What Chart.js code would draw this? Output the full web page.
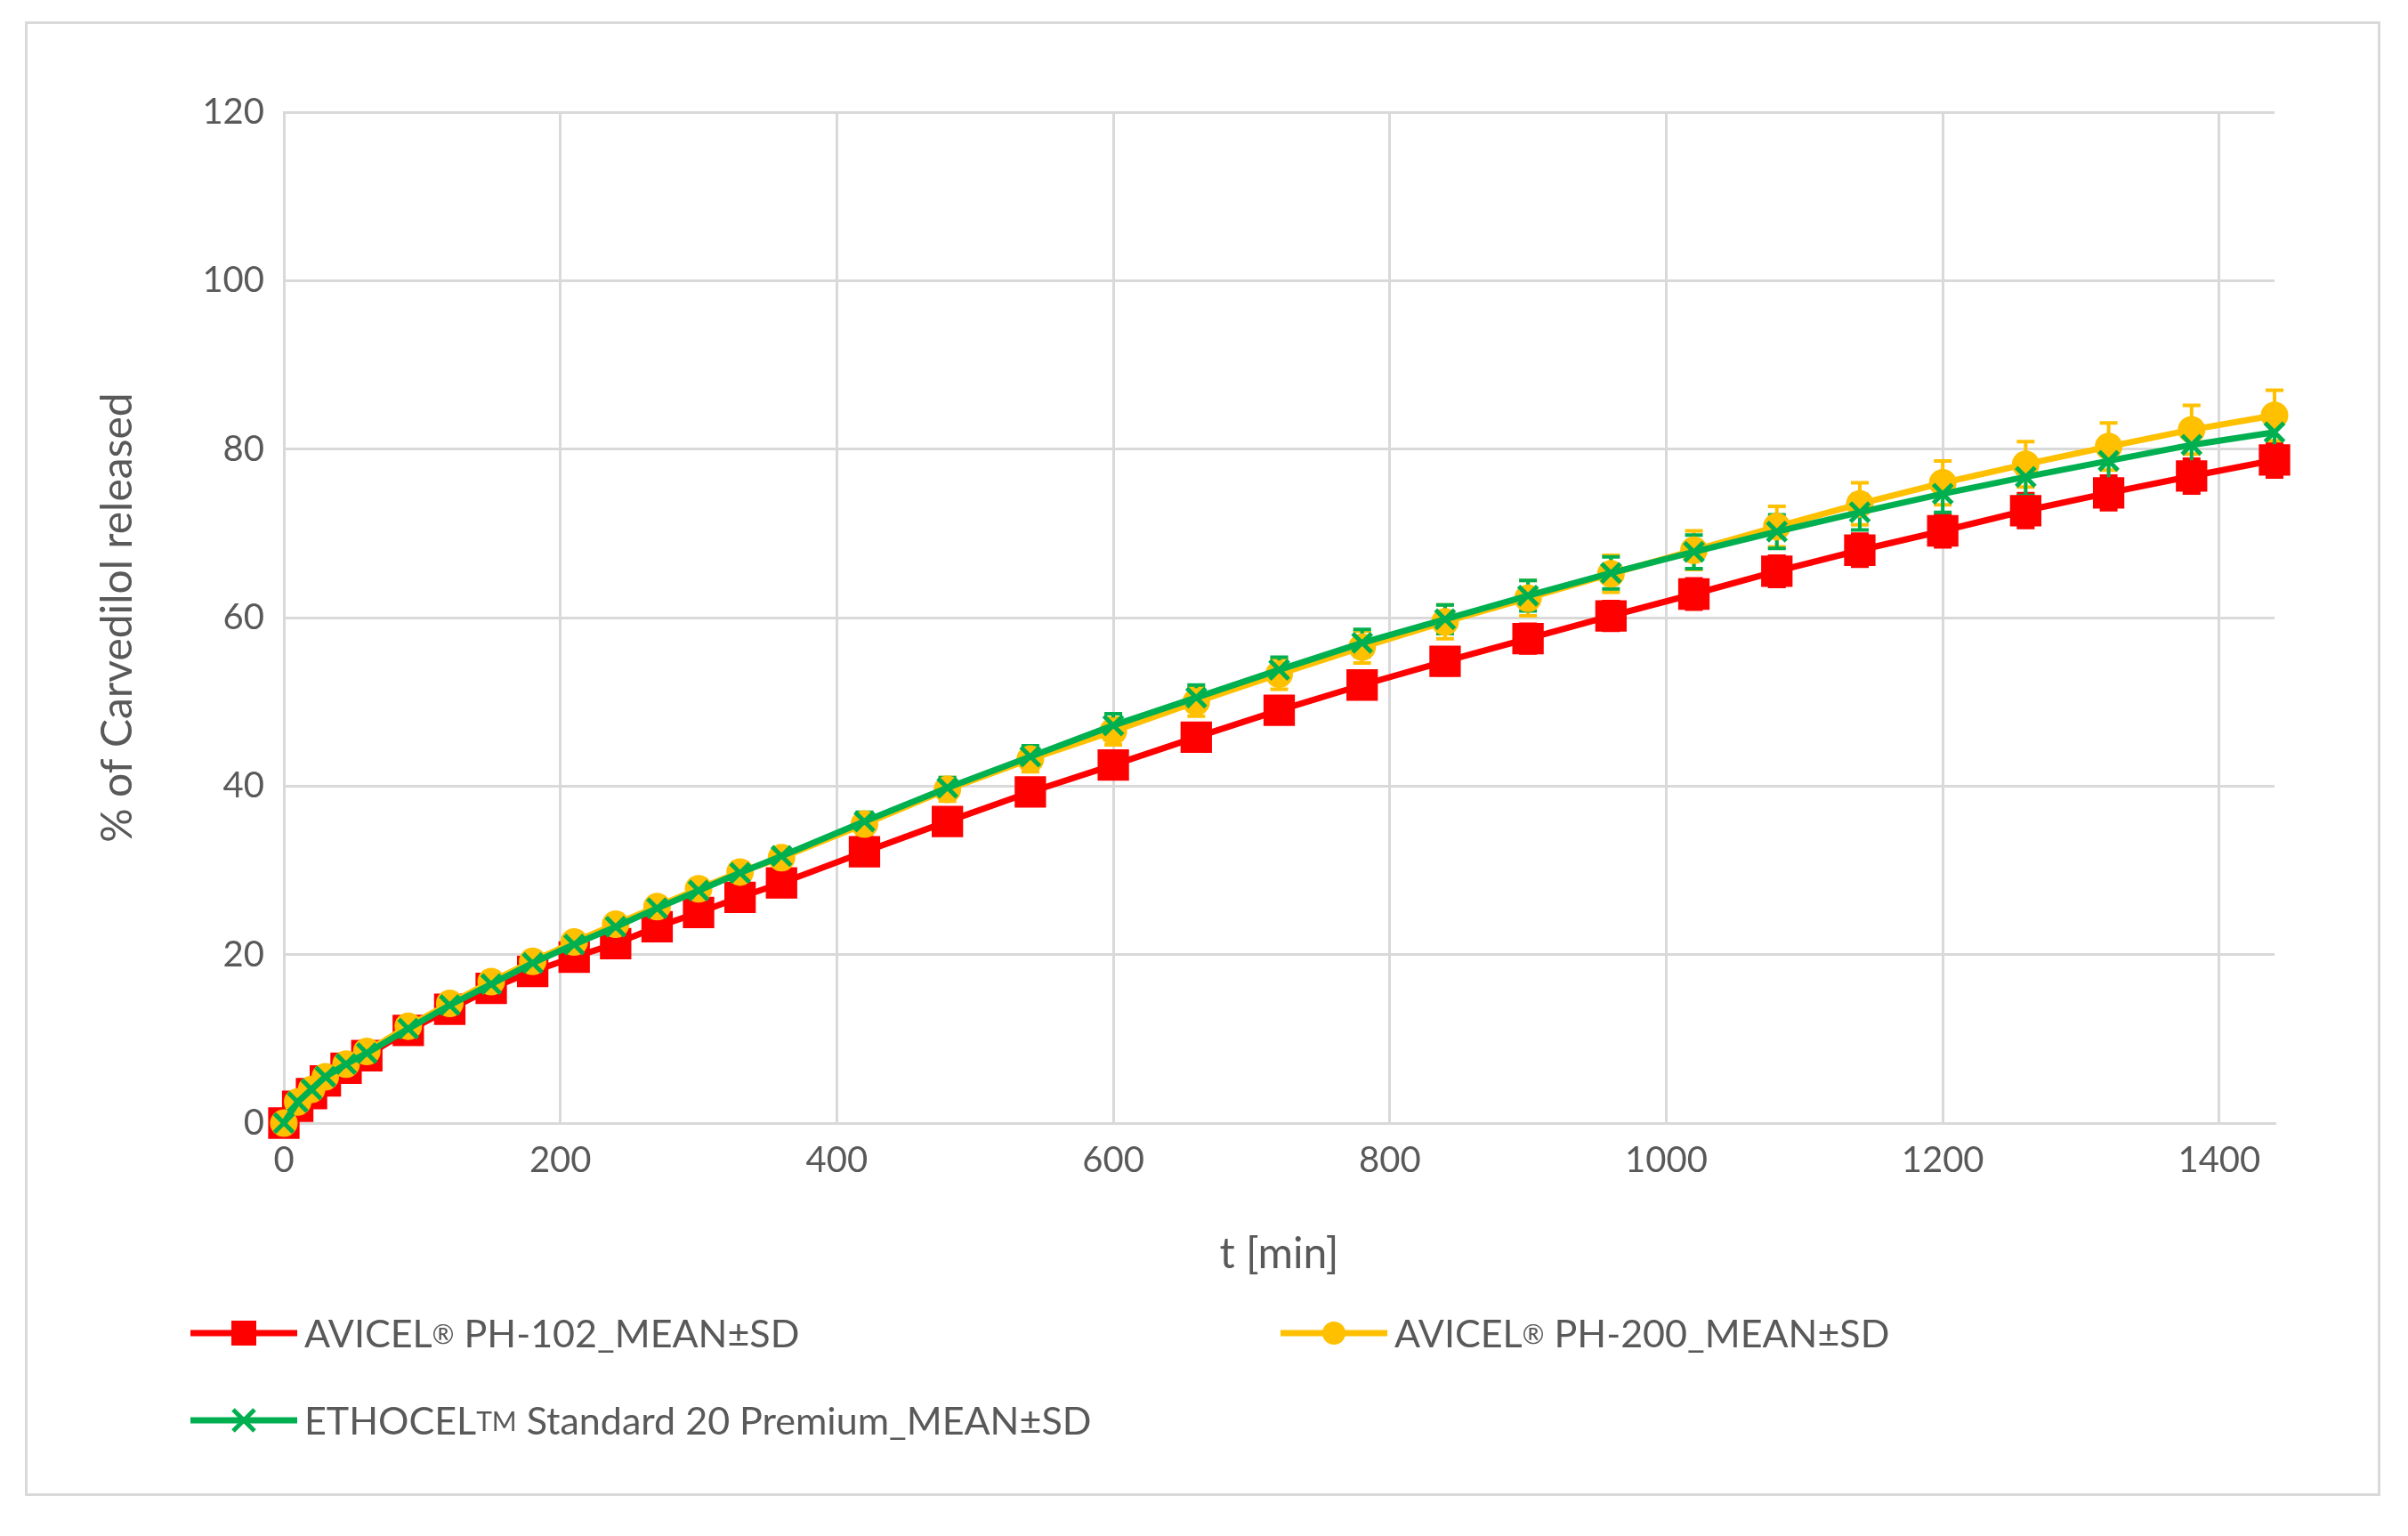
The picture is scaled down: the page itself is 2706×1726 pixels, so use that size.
<!DOCTYPE html>
<html><head><meta charset="utf-8">
<script src="https://cdn.jsdelivr.net/npm/chart.js@4"></script>
<style>
body{margin:0;background:#fff;}
#wrap{position:relative;width:2706px;height:1726px;}
#frame{position:absolute;left:28px;top:24px;width:2647px;height:1657px;border:3px solid #d9d9d9;box-sizing:border-box;}
canvas{position:absolute;left:0;top:0;}
.lg{position:absolute;font-family:Lato,'Open Sans',sans-serif;font-size:43px;color:#595959;display:flex;align-items:center;white-space:nowrap;}
.lg svg{margin-right:6px;}
.lg sup{font-size:30px;}
</style></head><body>
<div id="wrap"><div id="frame"></div><canvas id="c" width="2706" height="1726"></canvas>
<div class="lg" style="left:212px;top:1472px"><svg width="124" height="50"><line x1="2" y1="25" x2="122" y2="25" stroke="#ff0000" stroke-width="7"/><rect x="48" y="11" width="28" height="28" fill="#ff0000"/></svg>AVICEL<sup>®</sup>&nbsp;PH-102_MEAN±SD</div>
<div class="lg" style="left:1437px;top:1472px"><svg width="124" height="50"><line x1="2" y1="25" x2="122" y2="25" stroke="#ffc000" stroke-width="7"/><circle cx="62" cy="25" r="13" fill="#ffc000"/></svg>AVICEL<sup>®</sup>&nbsp;PH-200_MEAN±SD</div>
<div class="lg" style="left:212px;top:1570px"><svg width="124" height="50"><line x1="2" y1="25" x2="122" y2="25" stroke="#00b050" stroke-width="7"/><path d="M50 13 L74 37 M74 13 L50 37" stroke="#00b050" stroke-width="5"/></svg>ETHOCEL<sup>TM</sup>&nbsp;Standard 20 Premium_MEAN±SD</div>
</div>
<script>
const times=[0,10,20,30,45,60,90,120,150,180,210,240,270,300,330,360,420,480,540,600,660,720,780,840,900,960,1020,1080,1140,1200,1260,1320,1380,1440];
const ph102=[0,2,3.5,5,6.5,8,11,13.5,16,18,19.7,21.3,23.3,25,26.8,28.5,32.2,35.8,39.3,42.5,45.8,49,52,54.8,57.5,60.2,62.8,65.5,68,70.3,72.7,74.8,76.8,78.7];
const ph200=[0,2.5,4,5.5,7,8.5,11.5,14.2,16.8,19.2,21.5,23.6,25.7,27.8,29.8,31.5,35.5,39.6,43.2,46.5,50,53.3,56.5,59.5,62.3,65.2,68,70.8,73.5,76,78.2,80.3,82.3,84];
const etho=[0,2.5,4,5.5,7,8.3,11.2,14,16.5,19,21.2,23.3,25.5,27.6,29.7,31.7,35.8,39.8,43.5,47.2,50.5,53.8,57,59.8,62.6,65.3,67.8,70.2,72.5,74.7,76.7,78.6,80.5,82];
const sd102=[0,0.2,0.3,0.4,0.5,0.5,0.6,0.7,0.8,0.8,0.9,0.9,1,1,1.1,1.1,1.2,1.3,1.3,1.4,1.5,1.5,1.6,1.6,1.7,1.7,1.8,1.8,1.9,1.9,2,2,2,2];
const sd200=[0,0.2,0.3,0.4,0.5,0.5,0.6,0.7,0.8,0.9,0.9,1,1,1.1,1.1,1.2,1.3,1.4,1.5,1.6,1.7,1.8,1.9,2,2.1,2.2,2.3,2.4,2.5,2.6,2.7,2.8,2.9,3];
const sdEtho=[0,0.2,0.3,0.4,0.4,0.5,0.6,0.6,0.7,0.7,0.8,0.8,0.9,0.9,1,1,1.1,1.2,1.3,1.4,1.5,1.5,1.6,1.7,1.8,1.9,2,2,2.1,2.2,2.2,2.3,2.3,2.4];
const xTicks=[0,200,400,600,800,1000,1200,1400];
const mk=(v)=>times.map((t,i)=>({x:t,y:v[i]}));
const errPlugin={id:'err',beforeDatasetsDraw(ch){
  const c=ch.ctx,xs=ch.scales.x,ys=ch.scales.y;
  ch.data.datasets.forEach(ds=>{c.save();c.strokeStyle=ds.borderColor;c.lineWidth=4;
    ds.data.forEach((p,i)=>{const s=ds.sd[i];if(!s)return;const x=xs.getPixelForValue(p.x);
      const y1=ys.getPixelForValue(p.y-s),y2=ys.getPixelForValue(p.y+s);
      c.beginPath();c.moveTo(x,y1);c.lineTo(x,y2);c.moveTo(x-10,y1);c.lineTo(x+10,y1);c.moveTo(x-10,y2);c.lineTo(x+10,y2);c.stroke();});
    c.restore();});
}};
const F="Lato, 'Open Sans', sans-serif",G='#595959';
new Chart(document.getElementById('c'),{type:'line',
data:{datasets:[
 {data:mk(ph102),sd:sd102,borderColor:'#ff0000',backgroundColor:'#ff0000',borderWidth:7,pointStyle:'rect',pointRadius:20,pointHoverRadius:20,order:3,clip:false},
 {data:mk(ph200),sd:sd200,borderColor:'#ffc000',backgroundColor:'#ffc000',borderWidth:7,pointStyle:'circle',pointRadius:12,pointHoverRadius:12,order:2,clip:false},
 {data:mk(etho),sd:sdEtho,borderColor:'#00b050',backgroundColor:'#00b050',borderWidth:7,pointStyle:'cross',pointRotation:45,pointRadius:15,pointBorderWidth:5,order:1,clip:false}
]},
plugins:[errPlugin],
options:{responsive:false,animation:false,devicePixelRatio:1,
 layout:{padding:{left:100,right:150,top:126,bottom:284}},
 plugins:{legend:{display:false},tooltip:{enabled:false}},
 scales:{
  x:{type:'linear',min:0,max:1440,afterFit:s=>{s.height=180;},
     afterBuildTicks:s=>{s.ticks=xTicks.map(v=>({value:v}));},
     grid:{color:'#d9d9d9',lineWidth:3,drawTicks:false},border:{color:'#d9d9d9',width:3},
     ticks:{font:{family:F,size:40},color:G,padding:18,callback:v=>String(v)},
     title:{display:true,text:'t [min]',font:{family:F,size:48},color:G,padding:{top:4}}},
  y:{min:0,max:120,afterFit:s=>{s.width=219;},
     grid:{color:'#d9d9d9',lineWidth:3,drawTicks:false},border:{color:'#d9d9d9',width:3},
     ticks:{stepSize:20,font:{family:F,size:40},color:G,padding:22,callback:v=>String(v)},
     title:{display:true,text:'% of Carvedilol released',font:{family:F,size:48},color:G,padding:{bottom:10}}}
 }}});
</script></body></html>
